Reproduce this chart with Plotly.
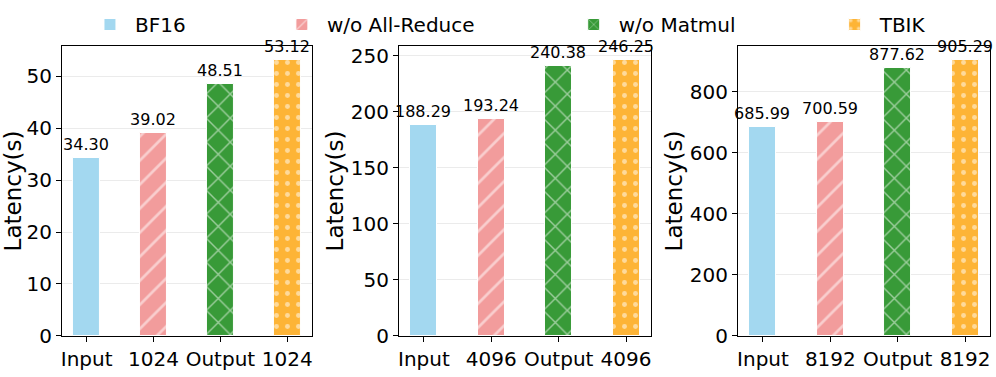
import plotly.graph_objects as go

# dados
SERIES = ["BF16", "w/o All-Reduce", "w/o Matmul", "TBIK"]
TICK_LABELS = [
    ["Input", "1024", "Output", "1024"],
    ["Input", "4096", "Output", "4096"],
    ["Input", "8192", "Output", "8192"],
]
bf16 = [34.30, 188.29, 685.99]
wo_allreduce = [39.02, 193.24, 700.59]
wo_matmul = [48.51, 240.38, 877.62]
tbik = [53.12, 246.25, 905.29]
Y_TICKS = [
    [0, 10, 20, 30, 40, 50],
    [0, 50, 100, 150, 200, 250],
    [0, 200, 400, 600, 800],
]

COLORS = ["#A3D8F0", "#F29C9C", "#389A38", "#FDB436"]
PATTERNS = ["", "/", "x", "."]
PAT_SIZE = [8, 17, 17, 11]
PAT_SOLID = [0.2, 0.16, 0.16, 0.16]

FONT = "DejaVu Sans"
X_DOMAINS = [[0.0622, 0.3133], [0.4006, 0.6536], [0.741, 0.994]]
Y_DOMAIN = [0.1088, 0.878]
LEGEND_X = [0.0853, 0.278, 0.571, 0.833]

values = [bf16, wo_allreduce, wo_matmul, tbik]

fig = go.Figure()

for p in range(3):
    xa = "x" if p == 0 else f"x{p + 1}"
    ya = "y" if p == 0 else f"y{p + 1}"
    for j, name in enumerate(SERIES):
        fig.add_trace(go.Bar(
            x=[j],
            y=[values[j][p]],
            name=name,
            legend="legend" if j == 0 else f"legend{j + 1}",
            showlegend=(p == 0),
            width=0.4,
            marker=dict(
                color=COLORS[j],
                line=dict(color="white", width=1),
                pattern=dict(shape=PATTERNS[j], fgcolor="white", bgcolor=COLORS[j],
                             size=PAT_SIZE[j], solidity=PAT_SOLID[j], fillmode="overlay"),
            ),
            texttemplate="%{y:.2f}",
            textposition="outside",
            textfont=dict(size=16, color="black", family=FONT),
            constraintext="none",
            cliponaxis=False,
            xaxis=xa,
            yaxis=ya,
        ))

layout = dict(
    width=996,
    height=377,
    margin=dict(l=0, r=0, t=0, b=0, autoexpand=False),
    paper_bgcolor="white",
    plot_bgcolor="white",
    font=dict(family=FONT, color="black", size=20),
    barmode="overlay",
    bargap=0,
)

for p in range(3):
    sfx = "" if p == 0 else str(p + 1)
    ymax = max(v[p] for v in values) * 1.05
    layout["xaxis" + sfx] = dict(
        domain=X_DOMAINS[p],
        range=[-0.37, 3.37],
        tickvals=[0, 1, 2, 3],
        ticktext=TICK_LABELS[p],
        tickfont=dict(size=20),
        ticks="outside", ticklen=5, tickcolor="black",
        showline=True, linecolor="black", linewidth=1, mirror=True,
        showgrid=False, zeroline=False,
        anchor="y" + sfx,
    )
    layout["yaxis" + sfx] = dict(
        domain=Y_DOMAIN,
        range=[0, ymax],
        tickvals=Y_TICKS[p],
        tickfont=dict(size=20),
        ticks="outside", ticklen=5, tickcolor="black",
        showline=True, linecolor="black", linewidth=1, mirror=True,
        showgrid=True, gridcolor="#EBEBEB", gridwidth=1, zeroline=False,
        title=dict(text="Latency(s)", font=dict(size=23), standoff=0),
        anchor="x" + sfx,
    )

for j in range(4):
    key = "legend" if j == 0 else f"legend{j + 1}"
    layout[key] = dict(
        x=LEGEND_X[j], xanchor="left",
        y=0.935, yanchor="middle",
        orientation="h",
        font=dict(size=20, family=FONT),
        bgcolor="rgba(0,0,0,0)",
        itemwidth=40,
    )

fig.update_layout(**layout)

# tira a margem padrão do <body> para a figura ocupar a janela toda
fig.write_html("out.html", config={"displayModeBar": False},
               post_script="document.body.style.margin='0';")
